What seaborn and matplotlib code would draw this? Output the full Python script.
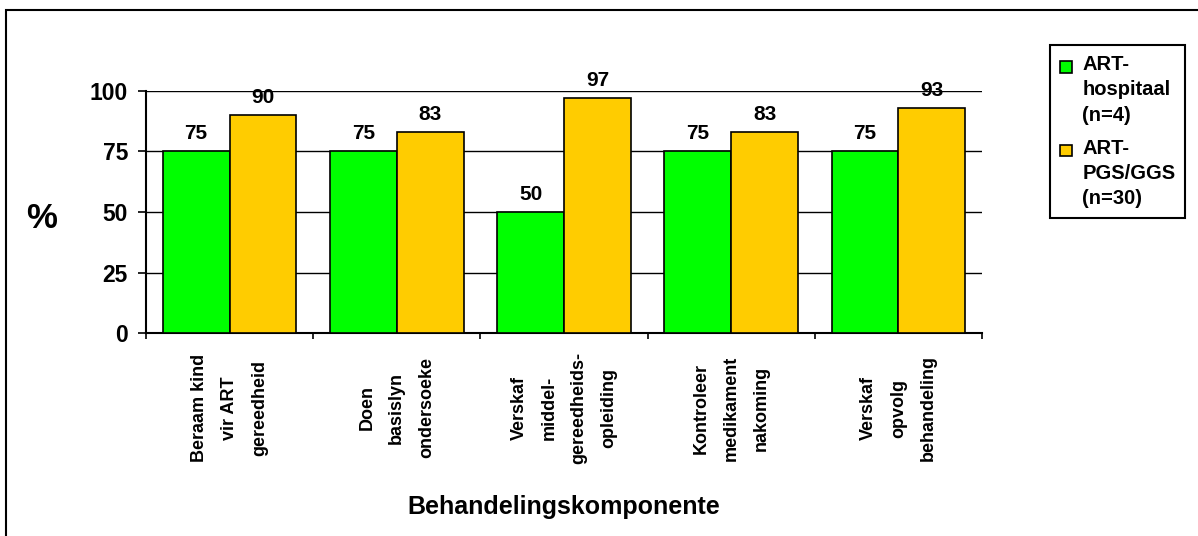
import matplotlib
matplotlib.use("Agg")
import matplotlib.pyplot as plt
import seaborn as sns
import pandas as pd
from matplotlib.patches import Rectangle, Patch
from matplotlib.legend_handler import HandlerBase

categories = [
    "Beraam kind\nvir ART\ngereedheid",
    "Doen\nbasislyn\nondersoeke",
    "Verskaf\nmiddel-\ngereedheids-\nopleiding",
    "Kontroleer\nmedikament\nnakoming",
    "Verskaf\nopvolg\nbehandeling",
]
series_names = ["ART-\nhospitaal\n(n=4)", "ART-\nPGS/GGS\n(n=30)"]
hospitaal = [75, 75, 50, 75, 75]
pgs_ggs = [90, 83, 97, 83, 93]
colors = ["#00FF00", "#FFCC00"]
y_ticks = [0, 25, 50, 75, 100]

df = pd.DataFrame({
    "cat": categories * 2,
    "series": [series_names[0]] * 5 + [series_names[1]] * 5,
    "value": hospitaal + pgs_ggs,
})

sns.set_style("white")
plt.rcParams["font.family"] = ["Liberation Sans", "DejaVu Sans"]
plt.rcParams["font.weight"] = "bold"
for k in ["text.color", "axes.labelcolor", "xtick.color", "ytick.color",
          "axes.edgecolor"]:
    plt.rcParams[k] = "black"

W, H = 1198, 536
fig = plt.figure(figsize=(W / 100, H / 100), dpi=100)
ax = fig.add_axes([146 / W, 1 - 333 / H, (982 - 146) / W, (333 - 91) / H])

sns.barplot(data=df, x="cat", y="value", hue="series", order=categories,
            hue_order=series_names, palette=dict(zip(series_names, colors)),
            width=0.8, edgecolor="black", linewidth=1.2, saturation=1,
            legend=False, ax=ax, zorder=3)

for cont in ax.containers:
    ax.bar_label(cont, fmt="%d", fontsize=15, fontweight="bold", padding=6,
                 color="black")

ax.set_ylim(0, 100)
ax.set_xlim(-0.5, 4.5)
ax.set_yticks(y_ticks)
ax.yaxis.grid(True, color="black", linewidth=1, zorder=0)
ax.set_axisbelow(True)
for s in ["top", "right"]:
    ax.spines[s].set_visible(False)
for s in ["left", "bottom"]:
    ax.spines[s].set_color("black")
    ax.spines[s].set_linewidth(1.5)

ax.tick_params(axis="y", which="major", direction="out", length=6, width=1.2,
               pad=7, labelsize=16.5, left=True, color="black", labelcolor="black")
ax.set_xticks(range(len(categories)))
ax.set_xticklabels(categories, rotation=90, fontsize=13, fontweight="bold",
                   va="center", ha="center", multialignment="center",
                   linespacing=2.0, color="black")
ax.tick_params(axis="x", which="major", length=0, pad=54)
ax.set_xticks([i - 0.5 for i in range(len(categories) + 1)], minor=True)
ax.tick_params(axis="x", which="minor", direction="out", length=4, width=1.2,
               bottom=True, color="black")
for t in ax.get_yticklabels():
    t.set_fontweight("bold")

ax.set_xlabel("Behandelingskomponente", fontsize=18, fontweight="bold",
              color="black")
ax.xaxis.set_label_coords(0.5, (333 - 507) / 242)
ax.xaxis.label.set_va("center")
ax.set_ylabel("%", fontsize=25, fontweight="bold", rotation=0, va="center",
              ha="center", color="black")
ax.yaxis.set_label_coords((42 - 146) / 836, (333 - 218) / 242)


class HandlerTopSquare(HandlerBase):
    def create_artists(self, legend, orig_handle, xdescent, ydescent, width,
                       height, fontsize, trans):
        s = fontsize * 0.58
        r = Rectangle((-xdescent, -ydescent + height - s + 0.3 * fontsize),
                      s, s, facecolor=orig_handle.get_facecolor(),
                      edgecolor="black", linewidth=1.2, transform=trans)
        return [r]


handles = [Patch(facecolor=c, edgecolor="black") for c in colors]
leg = fig.legend(handles, series_names, loc="upper left",
                 bbox_to_anchor=(1050 / W, 1 - 45 / H), borderaxespad=0,
                 prop={"size": 14.5, "weight": "bold"}, frameon=True,
                 fancybox=False, edgecolor="black", framealpha=1,
                 borderpad=0.5, handlelength=0.6, handleheight=3.4,
                 handletextpad=0.5, labelspacing=0.7,
                 handler_map={Patch: HandlerTopSquare()})
leg.get_frame().set_linewidth(1.5)
for t in leg.get_texts():
    t.set_linespacing(1.42)
    t.set_color("black")

fig.patches.append(Rectangle((6 / W, -0.1), 1.2, (H - 10) / H + 0.1,
                             transform=fig.transFigure, fill=False,
                             edgecolor="black", linewidth=1.5))

fig.savefig("out.png", dpi=100)
